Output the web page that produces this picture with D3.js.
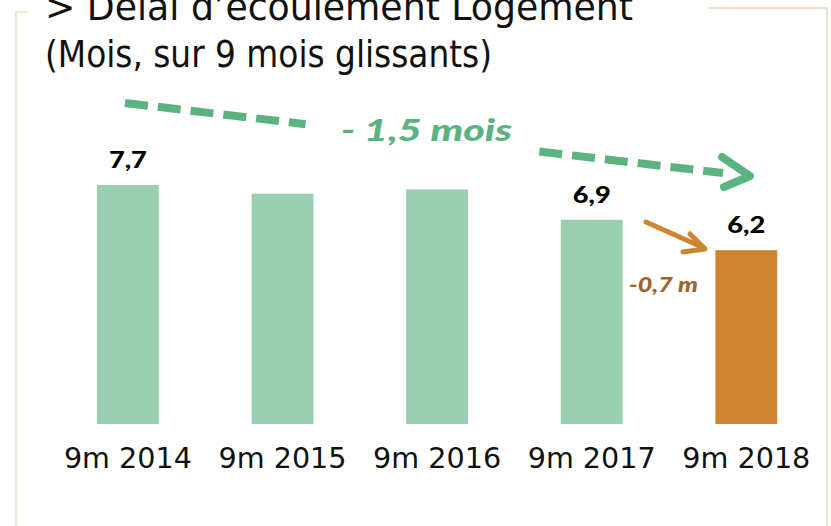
<!DOCTYPE html>
<html>
<head>
<meta charset="utf-8">
<script src="https://cdnjs.cloudflare.com/ajax/libs/d3/7.8.5/d3.min.js"></script>
<style>
  body { margin: 0; background: #fff; }
  svg { display: block; }
  .thin { font-family: "DejaVu Sans", sans-serif; font-stretch: condensed; fill: #111; }
  .bold { font-family: Lato, "Open Sans", sans-serif; font-weight: 900; }
</style>
</head>
<body>
<svg></svg>
<script>
const periods = ["9m 2014", "9m 2015", "9m 2016", "9m 2017", "9m 2018"];
const delays = [7.7, 7.5, 7.6, 6.9, 6.2];
const shownLabels = ["7,7", "", "", "6,9", "6,2"];
const barColors = ["#99cfb0", "#99cfb0", "#99cfb0", "#99cfb0", "#ce8430"];

const svg = d3.select("svg").attr("width", 831).attr("height", 526);

// frame
svg.append("path").attr("d", "M16,526 V12 H28").attr("fill", "none")
  .attr("stroke", "#efe2cc").attr("stroke-width", 1.5);
svg.append("path").attr("d", "M708,8 H827 V526").attr("fill", "none")
  .attr("stroke", "#ead7bc").attr("stroke-width", 1.5);

// titles
svg.append("text").attr("class", "thin").attr("x", 45).attr("y", 20).attr("font-size", 38)
  .attr("textLength", 588).attr("lengthAdjust", "spacingAndGlyphs")
  .text("> Délai d’écoulement Logement");
svg.append("text").attr("class", "thin").attr("x", 45).attr("y", 67).attr("font-size", 38)
  .attr("textLength", 447).attr("lengthAdjust", "spacingAndGlyphs")
  .text("(Mois, sur 9 mois glissants)");

const x = d3.scaleBand().domain(periods).range([50.6, 823.6]).paddingInner(0.6).paddingOuter(0.3);
const y = d3.scaleLinear().domain([2.2, 7.7]).range([424, 185]);

svg.selectAll("rect.bar").data(periods).enter().append("rect")
  .attr("class", "bar")
  .attr("x", d => x(d))
  .attr("width", x.bandwidth())
  .attr("y", (d, i) => y(delays[i]))
  .attr("height", (d, i) => y.range()[0] - y(delays[i]))
  .attr("fill", (d, i) => barColors[i]);

svg.selectAll("text.val").data(periods).enter().append("text")
  .attr("class", "val bold")
  .attr("x", d => x(d) + x.bandwidth() / 2)
  .attr("y", (d, i) => y(delays[i]) - 17)
  .attr("text-anchor", "middle")
  .attr("font-size", 23).attr("fill", "#000")
  .attr("textLength", 38).attr("lengthAdjust", "spacingAndGlyphs")
  .text((d, i) => shownLabels[i]);

const xAxis = svg.append("g").attr("transform", "translate(0,424)")
  .call(d3.axisBottom(x).tickSize(0).tickPadding(0));
xAxis.select(".domain").remove();
xAxis.selectAll("text").attr("class", "thin").attr("font-size", 29)
  .attr("dy", 44)
  .attr("textLength", 128).attr("lengthAdjust", "spacingAndGlyphs");

// green trend arrow
const green = "#5bb380";
const gx0 = 125, gy0 = 103, gx1 = 748, gy1 = 176;
const at = t => [gx0 + (gx1 - gx0) * t, gy0 + (gy1 - gy0) * t];
[[0, 0.29], [0.665, 0.96]].forEach(([a, b]) => {
  const p = at(a), q = at(b);
  svg.append("line").attr("x1", p[0]).attr("y1", p[1]).attr("x2", q[0]).attr("y2", q[1])
    .attr("stroke", green).attr("stroke-width", 8).attr("stroke-dasharray", "23,10");
});
svg.append("path").attr("d", "M722,157 L750,176 L724,187").attr("fill", "none")
  .attr("stroke", green).attr("stroke-width", 8).attr("stroke-linecap", "round").attr("stroke-linejoin", "round");
svg.append("text").attr("class", "bold").attr("x", 341).attr("y", 141)
  .attr("font-size", 31).attr("font-style", "italic").attr("fill", green)
  .attr("textLength", 171).attr("lengthAdjust", "spacingAndGlyphs")
  .text("- 1,5 mois");

// orange arrow
const orange = "#cc8530";
svg.append("path").attr("d", "M646,222 L704,248").attr("stroke", orange).attr("stroke-width", 5)
  .attr("stroke-linecap", "round");
svg.append("path").attr("d", "M690,234 L705,249 L683,252").attr("fill", "none")
  .attr("stroke", orange).attr("stroke-width", 5).attr("stroke-linecap", "round").attr("stroke-linejoin", "round");
svg.append("text").attr("class", "bold").attr("x", 629).attr("y", 292)
  .attr("font-size", 20).attr("font-style", "italic").attr("fill", "#9c6529")
  .attr("textLength", 69).attr("lengthAdjust", "spacingAndGlyphs")
  .text("-0,7 m");
</script>
</body>
</html>
